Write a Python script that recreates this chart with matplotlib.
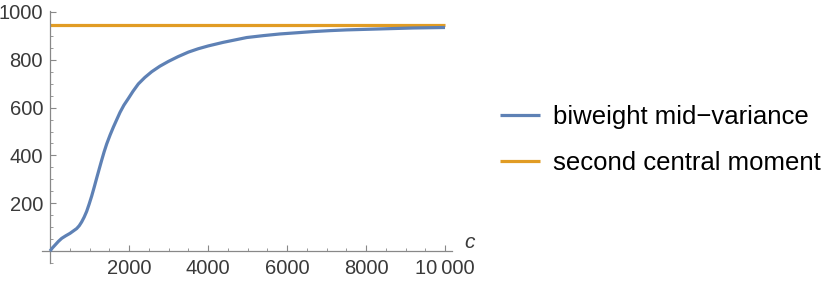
import matplotlib
matplotlib.use("Agg")
import matplotlib.pyplot as plt
from matplotlib.ticker import MultipleLocator, FixedLocator

plt.rcParams['font.family'] = ['Liberation Sans', 'DejaVu Sans']

# data
c_vals = [0, 60, 127, 210, 295, 400, 506, 590, 675, 740, 802, 865, 928, 990, 1055,
          1120, 1181, 1245, 1308, 1370, 1435, 1520, 1603, 1690, 1772, 1870, 1983,
          2100, 2236, 2400, 2574, 2780, 2996, 3240, 3502, 3750, 4008, 4388, 4979,
          5400, 5823, 6250, 6667, 7100, 7511, 8354, 9198, 10000]
biweight = [0, 13, 25, 40, 53, 64, 74, 84, 94, 106, 122, 142, 166, 196, 230,
            268, 305, 343, 380, 415, 448, 485, 518, 550, 580, 610, 638,
            668, 699, 726, 750, 773, 793, 813, 832, 846, 858, 873, 893,
            901, 908, 913, 918, 922, 925, 929, 933, 935]
moment_c = [0, 10000]
moment_v = [946, 946]

x_ticks = [2000, 4000, 6000, 8000, 10000]
x_labels = ["2000", "4000", "6000", "8000", "10\u2009000"]
y_ticks = [200, 400, 600, 800, 1000]
y_labels = ["200", "400", "600", "800", "1000"]
series_names = ["biweight mid\u2212variance", "second central moment"]

W, H = 834, 282
fig = plt.figure(figsize=(W / 100, H / 100), dpi=100)
ax = fig.add_axes([42 / W, (H - 263) / H, 410 / W, 252 / H])

blue = "#5E81B5"
orange = "#E19C24"
l1, = ax.plot(c_vals, biweight, color=blue, lw=2.3, solid_capstyle='butt',
              solid_joinstyle='round', zorder=3)
l2, = ax.plot(moment_c, moment_v, color=orange, lw=2.3, solid_capstyle='butt', zorder=2)

ax.set_xlim(-203, 10177)
ax.set_ylim(-50, 1004)

for s in ['top', 'right']:
    ax.spines[s].set_visible(False)
ax.spines['left'].set_position(('data', 0))
ax.spines['bottom'].set_position(('data', 0))
axis_col = "#888888"
for s in ['left', 'bottom']:
    ax.spines[s].set_color(axis_col)
    ax.spines[s].set_linewidth(0.9)

ax.xaxis.set_major_locator(FixedLocator(x_ticks))
ax.set_xticklabels(x_labels)
ax.xaxis.set_minor_locator(MultipleLocator(500))
ax.yaxis.set_major_locator(FixedLocator(y_ticks))
ax.set_yticklabels(y_labels)
ax.yaxis.set_minor_locator(MultipleLocator(50))

ax.tick_params(axis='both', which='major', direction='in', length=4.5, width=0.8,
               color=axis_col, labelsize=14.5, labelcolor="#3a3a3a", pad=5)
ax.tick_params(axis='both', which='minor', direction='in', length=2.5, width=0.6,
               color=axis_col)
ax.tick_params(axis='x', which='major', pad=6)

fig.text(470 / W, 1 - 243 / H, "c", fontsize=15, style='italic', color="#3a3a3a",
         ha='center', va='center')

fig.legend([l1, l2], series_names, loc='center left',
           bbox_to_anchor=(500 / W, 1 - 140 / H), frameon=False, borderpad=0,
           borderaxespad=0,
           fontsize=18.5, handlelength=1.55, handletextpad=0.5, labelspacing=0.85)

fig.savefig("out.png", dpi=100)
